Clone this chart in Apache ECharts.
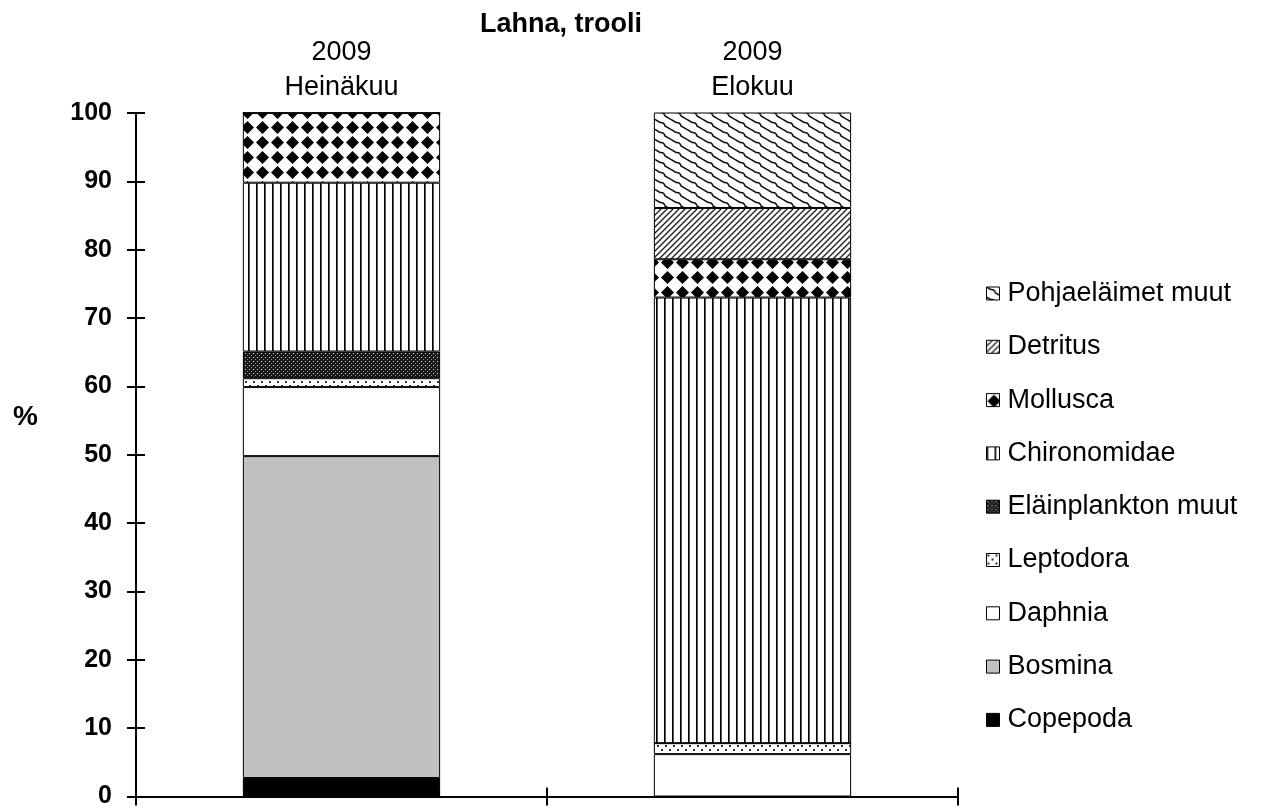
<!DOCTYPE html>
<html>
<head>
<meta charset="utf-8">
<script src="https://cdn.jsdelivr.net/npm/echarts@6/dist/echarts.min.js"></script>
<style>html,body{margin:0;padding:0;background:#fff;overflow:hidden}#chart{width:1273px;height:809px}</style>
</head>
<body>
<div id="chart"></div>
<script>
// ---- data ----
const categories = ['2009\nHeinäkuu', '2009\nElokuu'];
const seriesNames = ['Copepoda', 'Bosmina', 'Daphnia', 'Leptodora', 'Eläinplankton muut', 'Chironomidae', 'Mollusca', 'Detritus', 'Pohjaeläimet muut'];
const copepoda = [2.7, 0];
const bosmina = [47.1, 0];
const daphnia = [10.1, 6.2];
const leptodora = [1.3, 1.6];
const elainplankton = [3.9, 0];
const chironomidae = [24.7, 65.2];
const mollusca = [10.2, 5.6];
const detritus = [0, 7.5];
const pohjaelaimet = [0, 14.0];
const yTicks = [0, 10, 20, 30, 40, 50, 60, 70, 80, 90, 100];
const titleText = 'Lahna, trooli';
const yName = '%';

// ---- patterns ----
function tile(w, h, draw) {
  const c = document.createElement('canvas');
  c.width = w; c.height = h;
  const g = c.getContext('2d');
  draw(g, w, h);
  return { image: c, repeat: 'repeat' };
}
const patMollusca = tile(15, 15, (g, w, h) => {
  g.fillStyle = '#fff'; g.fillRect(0, 0, w, h);
  g.fillStyle = '#000';
  g.beginPath();
  g.moveTo(7.5, 1); g.lineTo(14, 7.5); g.lineTo(7.5, 14); g.lineTo(1, 7.5); g.closePath();
  g.fill();
});
const patChiro = tile(8, 8, (g, w, h) => {
  g.fillStyle = '#fff'; g.fillRect(0, 0, w, h);
  g.fillStyle = '#000'; g.fillRect(0, 0, 1, h);
  g.fillStyle = '#555'; g.fillRect(1, 0, 1, h);
});
const patElain = tile(4, 4, (g, w, h) => {
  g.fillStyle = '#1a1a1a'; g.fillRect(0, 0, w, h);
  g.fillStyle = '#ddd'; g.fillRect(1, 1, 1, 1);
  g.fillStyle = '#888'; g.fillRect(3, 3, 1, 1);
});
const patLepto = tile(8, 8, (g, w, h) => {
  g.fillStyle = '#fff'; g.fillRect(0, 0, w, h);
  g.fillStyle = '#333';
  g.fillRect(1, 1, 2, 2);
  g.fillRect(5, 5, 2, 2);
});
const patDetritus = tile(6, 6, (g, w, h) => {
  g.fillStyle = '#fff'; g.fillRect(0, 0, w, h);
  g.strokeStyle = '#222'; g.lineWidth = 1.4;
  g.beginPath();
  g.moveTo(-1, 7); g.lineTo(7, -1);
  g.moveTo(-4, 4); g.lineTo(4, -4);
  g.moveTo(2, 10); g.lineTo(10, 2);
  g.stroke();
});
const patPohja = tile(16, 10, (g, w, h) => {
  g.fillStyle = '#fff'; g.fillRect(0, 0, w, h);
  g.strokeStyle = '#111'; g.lineWidth = 1.5;
  for (const dy of [-10, 0, 10]) {
    for (const dx of [-16, 0, 16]) {
      g.beginPath();
      g.moveTo(dx + 0, dy + 0);
      g.lineTo(dx + 4, dy + 2.5);
      g.quadraticCurveTo(dx + 8, dy + 2, dx + 9, dy + 6);
      g.lineTo(dx + 16, dy + 10);
      g.stroke();
    }
  }
});

const seriesData = [copepoda, bosmina, daphnia, leptodora, elainplankton, chironomidae, mollusca, detritus, pohjaelaimet];
const fills = ['#000000', '#c0c0c0', '#ffffff', patLepto, patElain, patChiro, patMollusca, patDetritus, patPohja];

const FONT = 'Liberation Sans, Arial, sans-serif';

const chart = echarts.init(document.getElementById('chart'), null, { renderer: 'canvas', width: 1273, height: 809 });
chart.setOption({
  animation: false,
  backgroundColor: '#fff',
  title: {
    text: titleText,
    left: 556, top: 6, textAlign: 'center',
    textStyle: { fontFamily: FONT, fontSize: 27, fontWeight: 'bold', color: '#000' }
  },
  graphic: [{
    type: 'text', left: 13, top: 403,
    style: { text: yName, font: 'bold 28px ' + FONT, fill: '#000' }
  }],
  legend: {
    orient: 'vertical',
    left: 981, top: 275,
    itemWidth: 13, itemHeight: 13, itemGap: 26.3,
    icon: 'rect',
    data: seriesNames.slice().reverse(),
    itemStyle: { borderColor: '#000', borderWidth: 1 },
    textStyle: { fontFamily: FONT, fontSize: 27, color: '#000', padding: [0, 0, 0, 3] }
  },
  grid: { left: 136, right: 315, top: 113, bottom: 10, containLabel: false },
  xAxis: [
    {
      type: 'category', data: categories, position: 'bottom',
      axisLine: { lineStyle: { color: '#000', width: 2 } },
      axisTick: { show: true, length: 9, lineStyle: { color: '#000', width: 2 } },
      axisLabel: { show: false }
    },
    {
      type: 'category', data: categories, position: 'top',
      axisLine: { show: false }, axisTick: { show: false },
      axisLabel: { fontFamily: FONT, fontSize: 27, color: '#000', lineHeight: 35, margin: 8 }
    },
    {
      type: 'category', data: categories, position: 'bottom',
      axisLine: { show: false },
      axisTick: { show: true, inside: true, length: 9, lineStyle: { color: '#000', width: 2 } },
      axisLabel: { show: false }
    }
  ],
  yAxis: [
    {
      type: 'value', min: 0, max: 100, interval: 10,
      axisLine: { show: true, lineStyle: { color: '#000', width: 2 } },
      axisTick: { show: true, length: 9, lineStyle: { color: '#000', width: 2 } },
      axisLabel: { fontFamily: FONT, fontSize: 25, fontWeight: 'bold', color: '#000', margin: 24,
        formatter: v => (yTicks.indexOf(v) >= 0 ? String(v) : '') },
      splitLine: { show: false }
    },
    {
      type: 'value', min: 0, max: 100, interval: 10, position: 'left',
      axisLine: { show: false },
      axisTick: { show: true, inside: true, length: 9, lineStyle: { color: '#000', width: 2 } },
      axisLabel: { show: false },
      splitLine: { show: false }
    }
  ],
  series: seriesNames.map((name, i) => ({
    name, type: 'bar', stack: 'total', barWidth: '48%',
    xAxisIndex: 0, yAxisIndex: 0,
    data: seriesData[i],
    itemStyle: { color: fills[i], borderColor: '#000', borderWidth: 1 },
    emphasis: { disabled: true }
  }))
});
</script>
</body>
</html>
